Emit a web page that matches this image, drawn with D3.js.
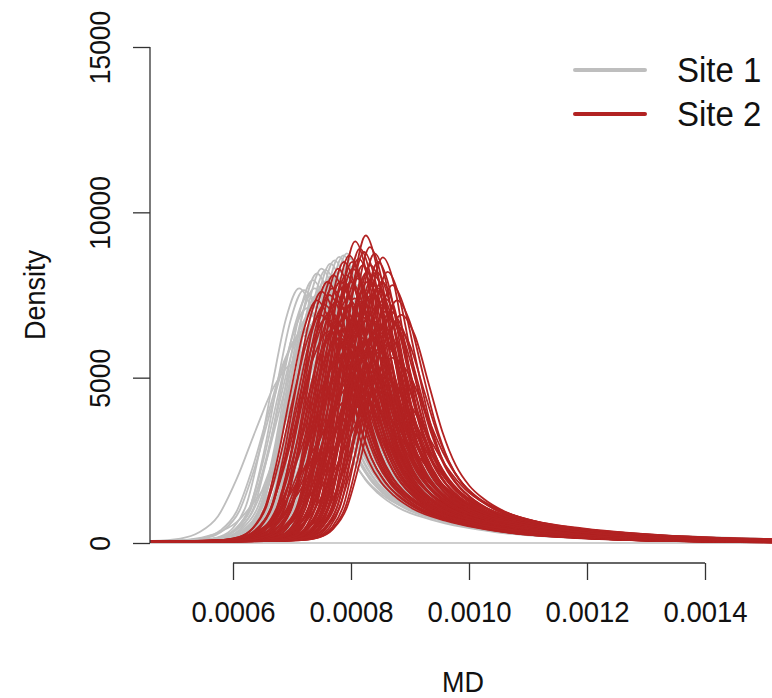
<!DOCTYPE html>
<html>
<head>
<meta charset="utf-8">
<script src="https://cdn.jsdelivr.net/npm/d3@7"></script>
<style>
  html, body { margin: 0; padding: 0; background: #fff; }
  svg { display: block; font-family: "Liberation Sans", Arial, Helvetica, sans-serif; }
</style>
</head>
<body>
<svg id="chart" width="772" height="698"></svg>
<script>
// ---- Data ----
const seriesNames = ["Site 1", "Site 2"];
const xTicks = [0.0006, 0.0008, 0.0010, 0.0012, 0.0014];
const xTickLabels = ["0.0006", "0.0008", "0.0010", "0.0012", "0.0014"];
const yTicks = [0, 5000, 10000, 15000];
const yTickLabels = ["0", "5000", "10000", "15000"];

// Shared density shape (offset from mode in units of 1e-4 MD, relative height)
const shapeOffset = [-4.0, -3.0, -2.0, -1.5, -1.2, -1.0, -0.8, -0.6, -0.4, -0.2, 0.0, 0.2, 0.4, 0.6, 0.8, 1.0, 1.2, 1.5, 2.0, 2.5, 3.0, 4.0, 5.0, 6.0, 7.0, 8.0, 10.0];
const shapeRel    = [0.004, 0.006, 0.008, 0.012, 0.025, 0.06, 0.15, 0.36, 0.63, 0.88, 1.0, 0.91, 0.7, 0.49, 0.34, 0.25, 0.195, 0.14, 0.092, 0.062, 0.042, 0.022, 0.012, 0.007, 0.004, 0.002, 0.0005];
// peak density at which a curve has the shape above unchanged (grey curves read slightly wider)
const shapeRefHeight = [8600, 8000];

// Site 1 (grey): mode position and peak density of each curve
const site1Mode = [0.000712, 0.000720, 0.000728, 0.000735, 0.000742, 0.000750, 0.000757, 0.000765, 0.000772, 0.000780,
                   0.000787, 0.000793, 0.000800, 0.000805, 0.000770, 0.000760, 0.000785, 0.000795, 0.000810, 0.000815,
                   0.000775, 0.000752, 0.000745, 0.000790, 0.000800, 0.000820, 0.000765, 0.000780, 0.000730, 0.000740,
                   0.000805, 0.000825, 0.000795, 0.000810, 0.000770, 0.000702, 0.000718, 0.000748, 0.000762, 0.000778,
                   0.000725, 0.000738, 0.000755, 0.000768, 0.000783, 0.000798, 0.000812, 0.000758, 0.000773, 0.000788,
                   0.000733, 0.000747, 0.000803, 0.000818, 0.000792, 0.000763, 0.000777, 0.000742, 0.000715, 0.000808];
const site1Peak = [7700, 7650, 7500, 7950, 8150, 8300, 8250, 8450, 8550, 8650,
                   8700, 8760, 8600, 8400, 7200, 6800, 7500, 6900, 7800, 7000,
                   6200, 7100, 6500, 5800, 6300, 6600, 5600, 5200, 6900, 7300,
                   5500, 6000, 4800, 4500, 4200, 5400, 6400, 5900, 7600, 8000,
                   7100, 7700, 7900, 8100, 8200, 8000, 7400, 7300, 7600, 7900,
                   6600, 6900, 7100, 6300, 6500, 6000, 6700, 7500, 6300, 6000];

// Site 2 (red)
const site2Mode = [0.000742, 0.000750, 0.000760, 0.000770, 0.000778, 0.000788, 0.000797, 0.000807, 0.000815, 0.000825,
                   0.000832, 0.000840, 0.000846, 0.000854, 0.000862, 0.000870, 0.000878, 0.000885, 0.000765, 0.000775,
                   0.000785, 0.000795, 0.000800, 0.000810, 0.000820, 0.000828, 0.000835, 0.000845, 0.000850, 0.000858,
                   0.000865, 0.000790, 0.000805, 0.000815, 0.000825, 0.000840, 0.000780, 0.000800, 0.000818, 0.000835,
                   0.000855, 0.000870, 0.000795, 0.000812, 0.000830, 0.000848, 0.000808, 0.000825, 0.000842, 0.000860,
                   0.000785, 0.000772, 0.000758, 0.000820, 0.000803, 0.000838, 0.000748, 0.000755, 0.000763, 0.000768,
                   0.000782, 0.000792, 0.000802, 0.000813, 0.000822, 0.000833, 0.000843, 0.000852, 0.000867, 0.000875,
                   0.000777, 0.000787, 0.000798, 0.000806, 0.000817, 0.000827, 0.000837, 0.000857, 0.000762, 0.000810,
                   0.000823, 0.000845, 0.000793, 0.000832, 0.000852, 0.000818];
const site2Peak = [7340, 7600, 7900, 8100, 8300, 8500, 8700, 9120, 8900, 9300,
                   8950, 8760, 8500, 8640, 8200, 7800, 7340, 6900, 7000, 7300,
                   7700, 7400, 7900, 8000, 7600, 7900, 7500, 7700, 7200, 7000,
                   6800, 6800, 6600, 6900, 7000, 6700, 6200, 6000, 5800, 6200,
                   6000, 5600, 5400, 5000, 5200, 5100, 4500, 4200, 4600, 4800,
                   5600, 6500, 6800, 8400, 8300, 8100, 6900, 7200, 7500, 7700,
                   7900, 8100, 8500, 8600, 8800, 8400, 8200, 7900, 7000, 6600,
                   6600, 7100, 7200, 7400, 7300, 8200, 7800, 7400, 6400, 6300,
                   6700, 6400, 6100, 5900, 6600, 5500];

const colors = ["#bebebe", "#b22222"];

// ---- Chart ----
const svg = d3.select("#chart");
const x = d3.scaleLinear().domain([0.0006, 0.0014]).range([233, 705]);
const y = d3.scaleLinear().domain([0, 15000]).range([543, 47]);

svg.append("defs").append("clipPath").attr("id", "plotclip")
  .append("rect").attr("x", 150).attr("y", 27).attr("width", 700).attr("height", 536);

const plot = svg.append("g").attr("clip-path", "url(#plotclip)");

// baseline at density 0
plot.append("line")
  .attr("x1", 150).attr("x2", 800)
  .attr("y1", y(0)).attr("y2", y(0))
  .attr("stroke", "#bebebe").attr("stroke-width", 1.5);

const line = d3.line().x(d => x(d[0])).y(d => y(d[1])).curve(d3.curveMonotoneX);

function curvePoints(mode, peak, ref) {
  const w = ref / peak;
  const pts = shapeOffset.map((o, i) => [mode + o * 1e-4 * w, peak * shapeRel[i]]);
  return [[0.0003, 0]].concat(pts).concat([[0.0025, 0]]);
}

[[site1Mode, site1Peak], [site2Mode, site2Peak]].forEach(([modes, peaks], si) => {
  const g = plot.append("g");
  modes.forEach((m, i) => {
    g.append("path")
      .attr("d", line(curvePoints(m, peaks[i], shapeRefHeight[si])))
      .attr("fill", "none")
      .attr("stroke", colors[si])
      .attr("stroke-width", 1.8);
  });
});

// Y axis
const yAxis = d3.axisLeft(y).tickValues(yTicks).tickSize(17).tickFormat((d, i) => yTickLabels[i]);
const ya = svg.append("g").attr("transform", "translate(150,0)").call(yAxis);
ya.select(".domain").attr("d", `M-0,${y(0)}V${y(15000)}`);
ya.selectAll("path, line").attr("stroke", "#333").attr("stroke-width", 1.3);
ya.selectAll("text")
  .attr("font-size", 26.5).attr("fill", "#111")
  .attr("x", 0).attr("y", 0).attr("dy", 0)
  .attr("text-anchor", "middle")
  .attr("transform", "translate(-40,0) rotate(-90) scale(1,1.08)");

// X axis
const xAxis = d3.axisBottom(x).tickValues(xTicks).tickSize(17).tickFormat((d, i) => xTickLabels[i]);
const xa = svg.append("g").attr("transform", "translate(0,563)").call(xAxis);
xa.select(".domain").attr("d", `M${x(0.0006)},0H${x(0.0014)}`);
xa.selectAll("path, line").attr("stroke", "#333").attr("stroke-width", 1.3);
xa.selectAll("text")
  .attr("font-size", 27.5).attr("fill", "#111")
  .attr("y", 0).attr("dy", 0)
  .attr("transform", "translate(0,59) scale(1,1.08)");

// Axis titles
svg.append("text").attr("transform", "translate(463,692) scale(1,1.08)").attr("text-anchor", "middle")
  .attr("font-size", 27).attr("fill", "#111").text("MD");
svg.append("text").attr("transform", "translate(45,295) rotate(-90) scale(1,1.08)").attr("text-anchor", "middle")
  .attr("font-size", 27).attr("fill", "#111").text("Density");

// Legend
const legY = [70, 114];
seriesNames.forEach((name, i) => {
  svg.append("line").attr("x1", 575).attr("x2", 645).attr("y1", legY[i]).attr("y2", legY[i])
    .attr("stroke", colors[i]).attr("stroke-width", 4).attr("stroke-linecap", "round");
  svg.append("text").attr("transform", `translate(677,${legY[i] + 12}) scale(1,1.08)`).attr("font-size", 33)
    .attr("fill", "#111").text(name);
});
</script>
</body>
</html>
